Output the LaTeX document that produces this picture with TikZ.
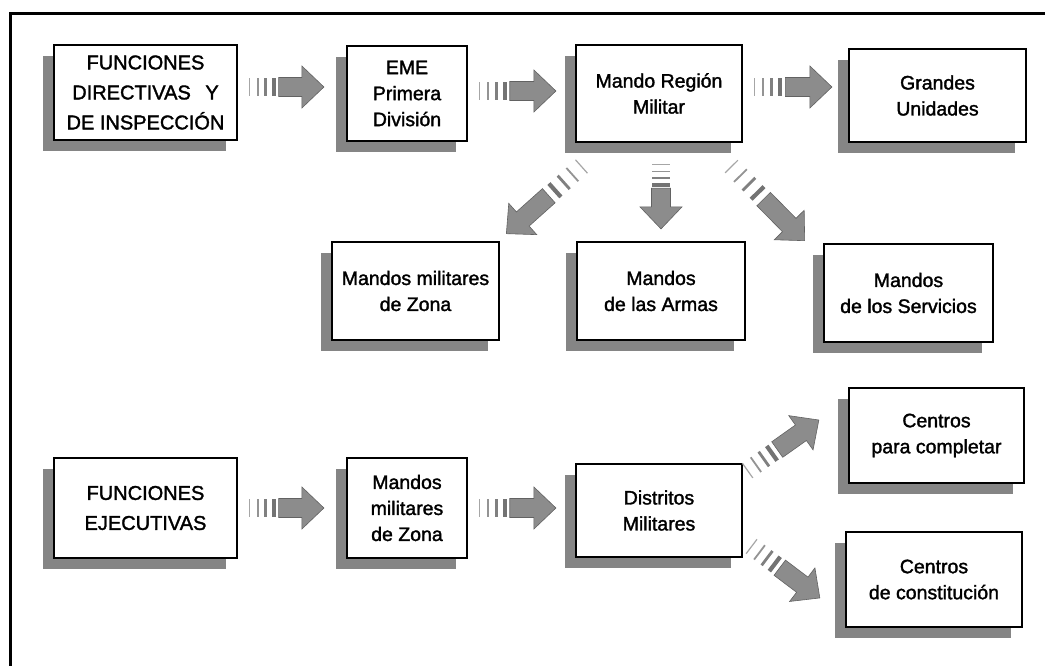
\documentclass[tikz,border=0pt]{standalone}
\usepackage{fontspec}
\setmainfont[FakeBold=1.6]{Liberation Sans}
\usetikzlibrary{calc,shadows}

\definecolor{shadegray}{gray}{0.52}
\definecolor{arrowgray}{gray}{0.55}

\tikzset{
  panel/.style={draw=black, line width=2.2pt, fill=white, inner sep=0pt, align=center,
    font=\fontsize{19.5}{26}\selectfont,
    drop shadow={shadow xshift=-11pt, shadow yshift=-11pt, fill=shadegray, opacity=1}},
  bigpanel/.style={panel, font=\fontsize{20}{30}\selectfont},
  frameline/.style={line width=3pt, line cap=rect},
  arrowbody/.style={fill=arrowgray, draw=arrowgray!70!black, line width=0.6pt, line join=miter},
}

% panel: name, x1, y1, x2, y2 (pixel-like units, y downwards), style, text
\newcommand\panel[7]{%
  \node[#6, minimum width={#4-#2-2}, minimum height={#5-#3-2}]
    (#1) at ({(#2+#4)/2},{(#3+#5)/2}) {#7};}

% broad grey arrow with a fading striped tail, from coordinate #1 to coordinate #2
\newcommand\fadearrow[2]{%
  \path let \p1=($(#2)-(#1)$) in
    \pgfextra{\pgfmathsetmacro\faang{atan2(\y1,\x1)}%
              \pgfmathsetmacro\falen{veclen(\x1,\y1)}%
              \xdef\FAang{\faang}\xdef\FAlen{\falen}};
  \begin{scope}[shift={(#1)}, rotate=\FAang]
    \pgfmathsetmacro\FAb{\FAlen-22}
    \foreach \f/\w/\c in {0/1.2/35, 0.15/1.8/42, 0.29/2.8/50, 0.43/4.2/55}
      \fill[black!\c] ({\f*\FAb},-9) rectangle ({\f*\FAb+\w},9);
    \path[arrowbody] ({0.56*\FAb},-9.5) -- (\FAb,-9.5) -- (\FAb,-21) -- (\FAlen,0)
      -- (\FAb,21) -- (\FAb,9.5) -- ({0.56*\FAb},9.5) -- cycle;
  \end{scope}}

\begin{document}
\begin{tikzpicture}[x=1pt, y=-1pt]
  \useasboundingbox (0,0) rectangle (1045,666);
  \fill[white] (0,0) rectangle (1045,666);
  \draw[frameline] (10,666) -- (10,14) -- (1045,14);

  % upper chain
  \panel{dir}{53}{44}{238}{141}{bigpanel}{FUNCIONES\\DIRECTIVAS\hspace{0.45em} Y\\DE INSPECCIÓN}
  \panel{eme}{346}{45}{468}{142}{panel}{EME\\Primera\\División}
  \panel{mrm}{575}{44}{743}{143}{panel}{Mando Región\\Militar}
  \panel{gu}{848}{48}{1027}{143}{panel}{Grandes\\Unidades}

  \panel{mmz}{331}{241}{500}{341}{panel}{Mandos militares\\de Zona}
  \panel{arm}{576}{241}{746}{341}{panel}{Mandos\\de las Armas}
  \panel{serv}{823}{243}{994}{343}{panel}{Mandos\\de los Servicios}

  % lower chain
  \panel{eje}{53}{457}{238}{559}{bigpanel}{FUNCIONES\\EJECUTIVAS}
  \panel{zona}{346}{457}{468}{559}{panel}{Mandos\\militares\\de Zona}
  \panel{dm}{575}{463}{743}{558}{panel}{Distritos\\Militares}
  \panel{cpc}{848}{387}{1025}{484}{panel}{Centros\\para completar}
  \panel{cdc}{845}{531}{1023}{628}{panel}{Centros\\de constitución}

  % arrow end points
  \coordinate (a1s) at ($(dir.east)+(11,-5.5)$);
  \coordinate (a1e) at ($(eme.west)+(-22,-6.5)$);
  \coordinate (a2s) at ($(eme.east)+(11,-2.5)$);
  \coordinate (a2e) at ($(mrm.west)+(-19,-2.5)$);
  \coordinate (a3s) at ($(mrm.east)+(11,-6.5)$);
  \coordinate (a3e) at ($(gu.west)+(-16,-8.5)$);
  \coordinate (a4s) at ($(mrm.south west)+(7,23)$);
  \coordinate (a4e) at ($(mmz.north east)+(6,-7)$);
  \coordinate (a5s) at ($(mrm.south)+(2,21)$);
  \coordinate (a5e) at ($(arm.north)+(0,-12)$);
  \coordinate (a6s) at ($(mrm.south east)+(-12,23)$);
  \coordinate (a6e) at ($(serv.north west)+(-18,-2)$);
  \coordinate (a7s) at ($(eje.east)+(11,0)$);
  \coordinate (a7e) at ($(zona.west)+(-22,0)$);
  \coordinate (a8s) at ($(zona.east)+(11,0)$);
  \coordinate (a8e) at ($(dm.west)+(-19,-2.5)$);
  \coordinate (a9s) at ($(dm.north east)+(4,8)$);
  \coordinate (a9e) at ($(cpc.west)+(-29,-15.5)$);
  \coordinate (a10s) at ($(dm.south east)+(8,-12)$);
  \coordinate (a10e) at ($(cdc.west)+(-25,18.5)$);

  \fadearrow{a1s}{a1e}
  \fadearrow{a2s}{a2e}
  \fadearrow{a3s}{a3e}
  \fadearrow{a4s}{a4e}
  \fadearrow{a5s}{a5e}
  \fadearrow{a6s}{a6e}
  \fadearrow{a7s}{a7e}
  \fadearrow{a8s}{a8e}
  \fadearrow{a9s}{a9e}
  \fadearrow{a10s}{a10e}
\end{tikzpicture}
\end{document}
